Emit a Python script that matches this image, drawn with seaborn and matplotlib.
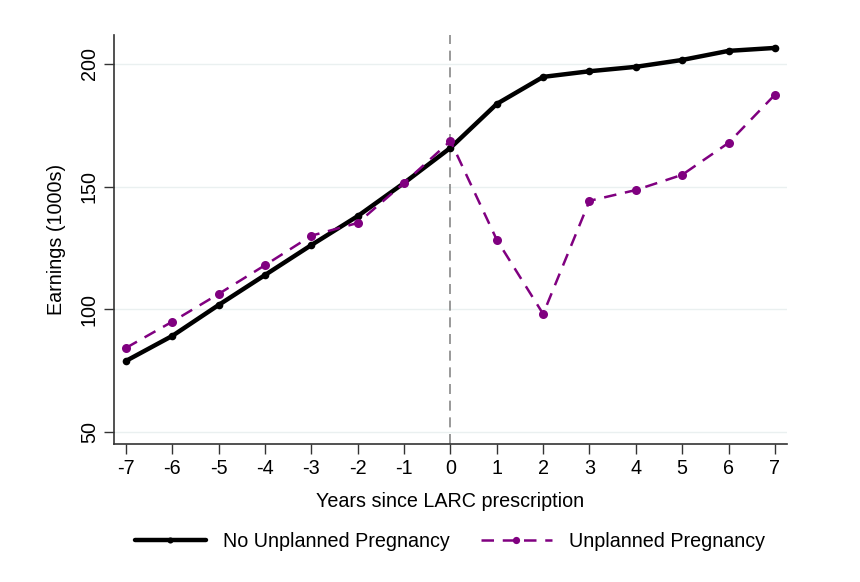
import matplotlib
matplotlib.use("Agg")
import pandas as pd
import seaborn as sns
import matplotlib.pyplot as plt

# data
years = list(range(-7, 8))
no_unplanned = [79, 89.2, 101.8, 114, 126.2, 138, 151.5, 165.8, 183.7, 194.7, 197, 198.8, 201.6, 205.3, 206.5]
unplanned = [84.3, 95, 106.3, 118, 130, 135.2, 151.5, 168.6, 128.3, 98.1, 144.2, 148.6, 154.8, 167.8, 187.4]
series_names = ["No Unplanned Pregnancy", "Unplanned Pregnancy"]

df = pd.DataFrame({
    "year": years * 2,
    "earnings": no_unplanned + unplanned,
    "group": [series_names[0]] * len(years) + [series_names[1]] * len(years),
})

sns.set_style("white")
plt.rcParams["font.family"] = ["Liberation Sans", "DejaVu Sans"]
plt.rcParams["axes.unicode_minus"] = False

fs = 14.2
fig = plt.figure(figsize=(8.6, 5.82), dpi=100)
ax = fig.add_axes([0.1326, 0.237, 0.7824, 0.703])

for y in [50, 100, 150, 200]:
    ax.axhline(y, color="#eaf0f0", linewidth=1, zorder=0)
ax.axvline(0, color="#888888", linestyle=(0, (6, 4)), linewidth=1.2, zorder=1)

sns.lineplot(data=df[df.group == series_names[0]], x="year", y="earnings",
             color="black", linewidth=3.2, marker="o", markersize=5.5,
             markeredgewidth=0, label=series_names[0], ax=ax, zorder=3)
sns.lineplot(data=df[df.group == series_names[1]], x="year", y="earnings",
             color="#800080", linewidth=1.8, linestyle=(0, (5, 3.5)), marker="o",
             markersize=6.5, markeredgewidth=0, label=series_names[1], ax=ax, zorder=4)

ax.set_xlim(-7.26, 7.26)
ax.set_ylim(45.1, 211.8)
ax.set_xticks(years)
ax.set_yticks([50, 100, 150, 200])
ax.tick_params(axis="both", which="major", bottom=True, left=True, direction="out",
               length=7, width=1, color="#333333", labelsize=fs, labelcolor="black", pad=4)
for lab in ax.get_yticklabels():
    lab.set_rotation(90)
    lab.set_va("center")
sns.despine(ax=ax, top=True, right=True)
for s in ["left", "bottom"]:
    ax.spines[s].set_color("#333333")
    ax.spines[s].set_linewidth(1.2)

ax.set_xlabel("Years since LARC prescription", fontsize=fs, labelpad=10, color="black")
ax.set_ylabel("Earnings (1000s)", fontsize=fs, labelpad=10, color="black")

leg = ax.legend(loc="center", bbox_to_anchor=(0.523, 0.069), bbox_transform=fig.transFigure,
                ncol=2, frameon=False, fontsize=fs, handlelength=3.6, columnspacing=1.6,
                handletextpad=0.85, markerscale=0.8)
for t in leg.get_texts():
    t.set_color("black")

fig.savefig("out.png", dpi=100)
